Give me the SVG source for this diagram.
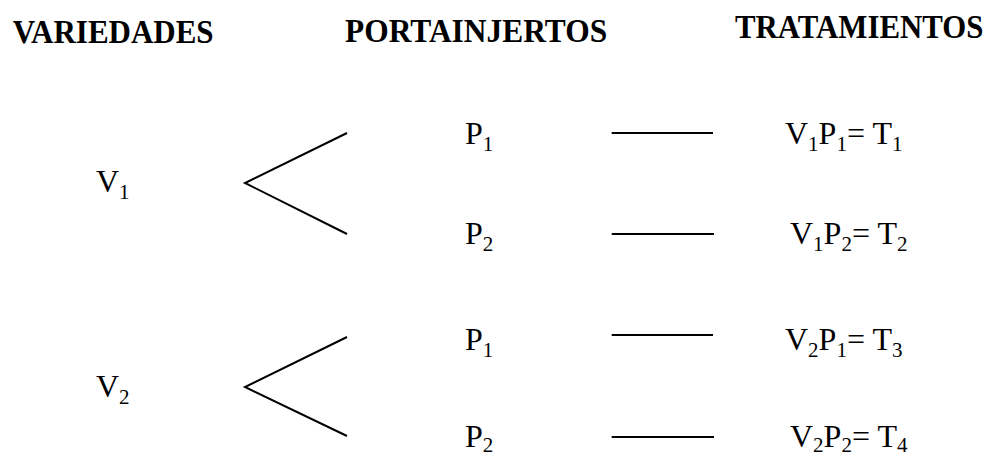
<svg xmlns="http://www.w3.org/2000/svg" width="992" height="456" viewBox="0 0 992 456">
<style>
.h{font-family:"Liberation Serif","Times New Roman",serif;font-weight:bold;font-size:34px;fill:#000}
.t{font-family:"Liberation Serif","Times New Roman",serif;font-size:32px;fill:#000}
.s{font-size:21px}
.c{stroke:#000;stroke-width:2;fill:none}
</style>
<rect width="992" height="456" fill="#fff"/>
<g id="headers">
<text class="h" transform="translate(12.7,43) scale(0.912,1)">VARIEDADES</text>
<text class="h" transform="translate(345,41.5) scale(0.925,1)">PORTAINJERTOS</text>
<text class="h" transform="translate(735,37.5) scale(0.907,1)">TRATAMIENTOS</text>
</g>
<g id="connectors">
<polyline class="c" points="347,133 245,183 347,234"/>
<polyline class="c" points="347,337 245,387 347,436"/>
<line class="c" x1="611.7" y1="133" x2="713" y2="133"/>
<line class="c" x1="611.7" y1="234" x2="714" y2="234"/>
<line class="c" x1="611.7" y1="335" x2="713" y2="335"/>
<line class="c" x1="611.7" y1="437" x2="714" y2="437"/>
</g>
<g id="v1"><text class="t" x="96" y="192">V<tspan class="s" dy="7">1</tspan></text></g>
<g id="v2"><text class="t" x="96" y="397">V<tspan class="s" dy="7">2</tspan></text></g>
<g id="p1a"><text class="t" x="465" y="144">P<tspan class="s" dy="7">1</tspan></text></g>
<g id="p2a"><text class="t" x="465" y="244">P<tspan class="s" dy="7">2</tspan></text></g>
<g id="p1b"><text class="t" x="465" y="350">P<tspan class="s" dy="7">1</tspan></text></g>
<g id="p2b"><text class="t" x="465" y="447">P<tspan class="s" dy="5">2</tspan></text></g>
<g id="t1"><text class="t" x="785" y="144">V<tspan class="s" dy="7">1</tspan><tspan dy="-7">P</tspan><tspan class="s" dy="7">1</tspan><tspan dy="-7">= T</tspan><tspan class="s" dy="7">1</tspan></text></g>
<g id="t2"><text class="t" x="790" y="244">V<tspan class="s" dy="7">1</tspan><tspan dy="-7">P</tspan><tspan class="s" dy="7">2</tspan><tspan dy="-7">= T</tspan><tspan class="s" dy="7">2</tspan></text></g>
<g id="t3"><text class="t" x="785" y="350">V<tspan class="s" dy="7">2</tspan><tspan dy="-7">P</tspan><tspan class="s" dy="7">1</tspan><tspan dy="-7">= T</tspan><tspan class="s" dy="7">3</tspan></text></g>
<g id="t4"><text class="t" x="790" y="447">V<tspan class="s" dy="5">2</tspan><tspan dy="-5">P</tspan><tspan class="s" dy="5">2</tspan><tspan dy="-5">= T</tspan><tspan class="s" dy="5">4</tspan></text></g>
</svg>
